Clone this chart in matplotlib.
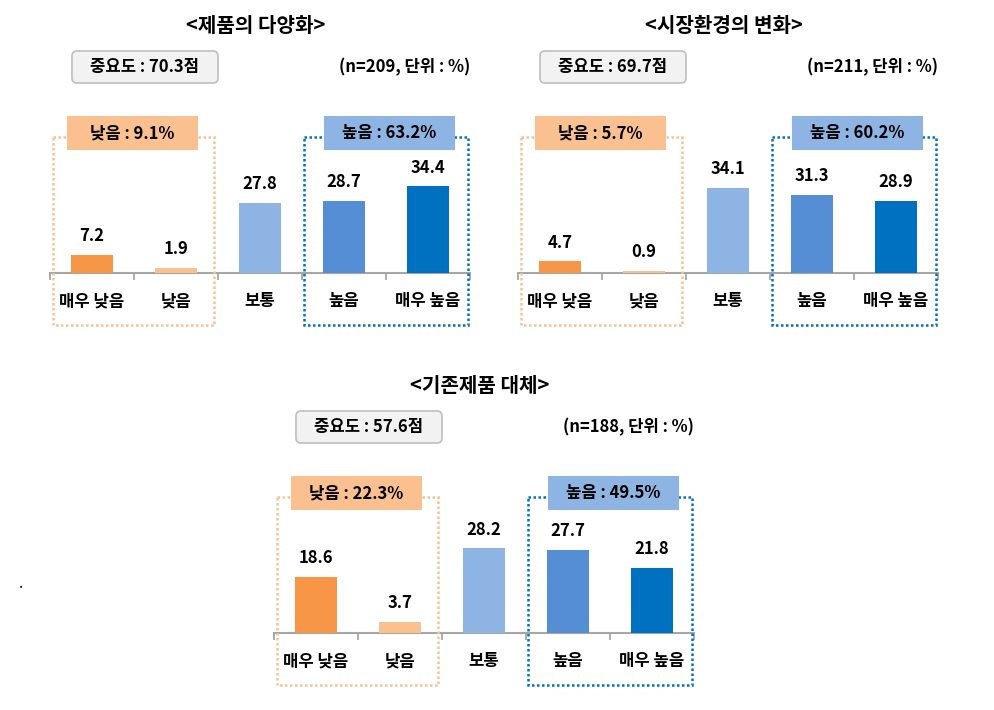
import matplotlib
matplotlib.use("Agg")
import matplotlib.pyplot as plt
from matplotlib.patches import Rectangle, FancyBboxPatch
from matplotlib.transforms import Affine2D

plt.rcParams['font.family'] = ['Noto Sans CJK KR', 'DejaVu Sans']

# ---- data ----
categories = ['매우 낮음', '낮음', '보통', '높음', '매우 높음']
titles = ['<제품의 다양화>', '<시장환경의 변화>', '<기존제품 대체>']
importance = [70.3, 69.7, 57.6]
n_values = [209, 211, 188]
values_1 = [7.2, 1.9, 27.8, 28.7, 34.4]
values_2 = [4.7, 0.9, 34.1, 31.3, 28.9]
values_3 = [18.6, 3.7, 28.2, 27.7, 21.8]
low_totals = [9.1, 5.7, 22.3]
high_totals = [63.2, 60.2, 49.5]

bar_colors = ['#F79646', '#FAC090', '#8EB4E3', '#558ED5', '#0070C0']
low_fill = '#FAC090'
high_fill = '#8EB4E3'
low_dot = '#FAC090'
high_dot = '#0070C0'

W, H = 994, 710
fig = plt.figure(figsize=(W / 100, H / 100), dpi=100)
px = Affine2D().scale(1 / W, -1 / H).translate(0, 1) + fig.transFigure

# panel layout: (axis left x, axis baseline y, px per unit)
panels = [(50, 273, 2.52), (518, 273, 2.50), (274, 633, 3.00)]
all_values = [values_1, values_2, values_3]
AX_W = 420
AX_H = 175

for i, (x0, yb, scale) in enumerate(panels):
    vals = all_values[i]
    ax = fig.add_axes([x0 / W, 1 - yb / H, AX_W / W, AX_H / H])
    xs = list(range(len(categories)))
    bars = ax.bar(xs, vals, width=0.51, color=bar_colors, zorder=3)
    ax.set_xlim(-0.5, len(categories) - 0.5)
    ax.set_ylim(0, AX_H / scale)
    for s in ['top', 'right', 'left']:
        ax.spines[s].set_visible(False)
    ax.spines['bottom'].set_color('#A6A6A6')
    ax.spines['bottom'].set_linewidth(1.5)
    ax.set_yticks([])
    ax.set_xticks(xs)
    ax.set_xticklabels(categories, fontsize=12, fontweight='bold')
    ax.tick_params(axis='x', which='major', length=0, pad=14)
    ax.set_xticks([k - 0.5 for k in range(len(categories) + 1)], minor=True)
    ax.tick_params(axis='x', which='minor', length=5, width=1.3, color='#A6A6A6')
    ax.patch.set_alpha(0)
    for b, v in zip(bars, vals):
        ax.annotate(f'{v:.1f}', (b.get_x() + b.get_width() / 2, v),
                    xytext=(0, 7), textcoords='offset points',
                    ha='center', va='bottom', fontsize=12, fontweight='bold')

    # title
    fig.text(x0 + 206, yb - 247, titles[i], transform=px, ha='center', va='center',
             fontsize=14.5, fontweight='bold')
    # importance box
    fig.patches.append(FancyBboxPatch((x0 + 22, yb - 222), 146, 32,
                                      boxstyle='round,pad=0,rounding_size=5',
                                      transform=px, facecolor='#F2F2F2',
                                      edgecolor='#BFBFBF', linewidth=1.2))
    fig.text(x0 + 95, yb - 206, f'중요도 : {importance[i]}점', transform=px,
             ha='center', va='center', fontsize=12, fontweight='bold')
    fig.text(x0 + 420, yb - 206, f'(n={n_values[i]}, 단위 : %)', transform=px,
             ha='right', va='center', fontsize=12, fontweight='bold')

    # dotted group rectangles
    fig.patches.append(Rectangle((x0 + 3, yb - 136), 161, 188, transform=px,
                                 fill=False, edgecolor=low_dot, linewidth=1.8,
                                 linestyle=(0, (1, 1)), zorder=1))
    fig.patches.append(Rectangle((x0 + 254, yb - 136), 164, 188, transform=px,
                                 fill=False, edgecolor=high_dot, linewidth=1.8,
                                 linestyle=(0, (1, 1)), zorder=1))
    # group label boxes
    fig.patches.append(Rectangle((x0 + 17, yb - 157), 131, 34, transform=px,
                                 facecolor=low_fill, edgecolor='none', zorder=2))
    fig.patches.append(Rectangle((x0 + 274, yb - 157), 131, 34, transform=px,
                                 facecolor=high_fill, edgecolor='none', zorder=2))
    fig.text(x0 + 82, yb - 140, f'낮음 : {low_totals[i]}%', transform=px,
             ha='center', va='center', fontsize=12, fontweight='bold', zorder=5)
    fig.text(x0 + 339, yb - 140, f'높음 : {high_totals[i]}%', transform=px,
             ha='center', va='center', fontsize=12, fontweight='bold', zorder=5)

fig.text(21, 583, '.', transform=px, ha='center', va='center', fontsize=11)

fig.savefig('out.png', dpi=100)
